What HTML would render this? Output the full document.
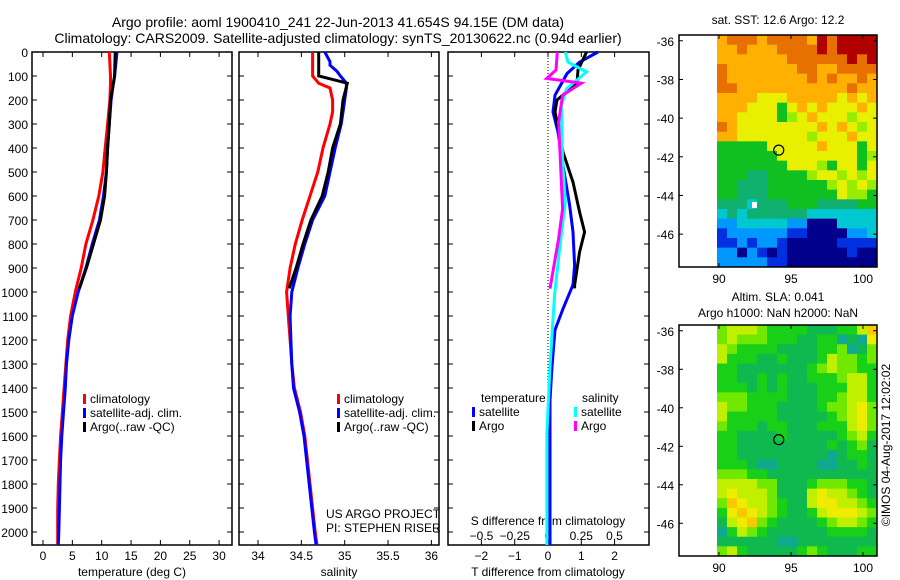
<!DOCTYPE html>
<html><head><meta charset="utf-8"><style>
body{margin:0;background:#fff}
svg{display:block;font-family:"Liberation Sans",sans-serif}
text{fill:#000}
</style></head><body>
<svg id="s" width="900" height="580" viewBox="0 0 900 580" xmlns="http://www.w3.org/2000/svg">
<text x="338" y="27" font-size="14" text-anchor="middle">Argo profile: aoml 1900410_241 22-Jun-2013 41.654S 94.15E (DM data)</text>
<text x="338" y="43" font-size="14" text-anchor="middle">Climatology: CARS2009. Satellite-adjusted climatology: synTS_20130622.nc (0.94d earlier)</text>
<text x="778" y="24" font-size="12" text-anchor="middle">sat. SST: 12.6 Argo: 12.2</text>
<text x="778" y="301" font-size="12" text-anchor="middle">Altim. SLA: 0.041</text>
<text x="778" y="317" font-size="12" text-anchor="middle">Argo h1000: NaN h2000: NaN</text>
<text transform="translate(890,445) rotate(-90)" font-size="12" text-anchor="middle">©IMOS 04-Aug-2017 12:02:02</text>
<g id="g"></g>
</svg>
<script>
// ---- profile data ----
const depthT = [0,50,100,130,200,300,400,500,600,700,800,900,1000,1100,1200,1300,1400,1500,1600,1700,1800,1900,2000,2054];
const tempClim = [11.3,11.4,11.5,11.5,11.4,11.0,10.6,10.2,9.5,8.5,7.3,6.5,5.5,4.7,4.2,3.9,3.6,3.3,3.0,2.8,2.6,2.5,2.5,2.5];
const tempSat  = [12.6,12.4,12.2,12.0,11.6,11.3,11.0,10.8,10.3,9.6,8.4,7.3,6.0,5.0,4.4,4.0,3.8,3.5,3.2,3.0,2.9,2.8,2.7,2.6];
const depthArgo = [0,100,130,200,300,400,500,600,700,800,900,985];
const tempArgo = [12.3,12.2,12.0,11.5,11.3,11.0,10.8,10.5,9.8,8.6,7.4,6.2];
const depthS = [0,40,55,80,100,130,150,200,250,300,400,500,600,700,800,900,1000,1100,1200,1300,1400,1500,1600,1700,1800,1900,2000,2054];
const salClim = [34.63,34.63,34.63,34.63,34.63,34.70,34.83,34.86,34.86,34.83,34.75,34.69,34.60,34.51,34.43,34.37,34.33,34.35,34.37,34.39,34.42,34.49,34.54,34.57,34.60,34.63,34.66,34.68];
const salSat  = [34.77,34.83,34.83,34.91,34.95,35.02,35.02,35.00,34.98,34.96,34.89,34.83,34.77,34.63,34.54,34.46,34.39,34.37,34.38,34.39,34.41,34.48,34.53,34.56,34.59,34.62,34.65,34.67];
const salArgo = [34.70,34.70,35.03,34.98,34.95,34.86,34.81,34.74,34.61,34.52,34.44,34.36];
// ---- difference data ----
const dTsatDepth = [0,42,90,180,250,333,472,638,750,890,970,1070,1158,1310,1450,1725,2000,2054];
const dTsat = [1.5,0.95,0.57,0.21,0.15,0.3,0.45,0.65,0.75,0.8,0.75,0.45,0.21,0.12,0.06,0.06,0.06,0.06];
const dTargoDepth = [0,75,130,200,250,417,542,667,750,833,972,985];
const dTargo = [1.16,0.9,0.87,0.27,0.21,0.45,0.75,0.95,1.1,0.95,0.8,0.8];
const dSsatDepth = [0,42,83,153,222,458,625,805,1010,1310,1590,2000,2054];
const dSsat = [0.13,0.15,0.29,0.14,0.1,0.11,0.13,0.09,0.05,0.015,-0.008,-0.008,-0.008];
const dSargoDepth = [0,75,110,130,180,292,653,778,986];
const dSargo = [0.07,0.06,-0.01,0.25,0.11,0.08,0.11,0.08,0.015];
// ---- tick labels ----
const depthTicks = [0,100,200,300,400,500,600,700,800,900,1000,1100,1200,1300,1400,1500,1600,1700,1800,1900,2000];
const tempTicks = [0,5,10,15,20,25,30];
const salTicks = [34,34.5,35,35.5,36];
const tdTicks = [-2,-1,0,1,2];
const sdTicks = [-0.5,-0.25,0,0.25,0.5];
const latTicks = [-36,-38,-40,-42,-44,-46];
const lonTicks = [90,95,100];
// ---- map grids (coded colour levels) ----
const sstRows = ["8999899998a9aaaa","8898889999a9aaaa","8888888999999a9a","9888888899889999","9888888889898898","9988888888888988","8888777888887878","8887775787877787","8877775678777677","9877777777878767","8877777776777877","5555577777877757","5555557777777756","5555555777657757","5554455556776767","5544455555567676","5544455555557665","4443444555444455","3434444443333333","2233333220003333","1222222110000223","1121221000001111","2202101000000100","2222211000000000"];
const slaRows = ["3444322221112246","3433322211220105","4322221111223013","4222112111243323","2211111112343322","2211212112223442","2221212111222442","3332222111223442","4332221111233453","4222221111123453","3222122111222453","2211112111112342","2211111111121231","2211111111101221","2221001111001121","3332211111111111","4444331112333221","4544431114544321","3654432114554432","2565432112455543","1456321111234432","0243211111122221","1111110011111111","3421111123211122"];
const argoLon = 94.15, argoLat = -41.654;

const NS="http://www.w3.org/2000/svg", G=document.getElementById('g');
function el(tag, attrs, parent){const e=document.createElementNS(NS,tag);for(const k in attrs)e.setAttribute(k,attrs[k]);(parent||G).appendChild(e);return e;}
const yD = d => 52 + 0.24*d;
const xT = v => 43 + 5.87*v;
const xS = v => 258 + 86.7*(v-34);
const xTd = v => 548 + 33.3*v;
const xSd = v => 548 + 133*v;

function frame(x0,x1,name){
  const r=el('rect',{x:x0,y:52,width:x1-x0,height:493,fill:'none',stroke:'#000','stroke-width':1.5});
  
  
  depthTicks.forEach(d=>{
    el('line',{x1:x0,x2:x0+5,y1:yD(d),y2:yD(d),stroke:'#000'});
    el('line',{x1:x1,x2:x1-5,y1:yD(d),y2:yD(d),stroke:'#000'});
  });
}
frame(32,232,'temperature-axes');
frame(239,439,'salinity-axes');
frame(448,649,'difference-axes');
depthTicks.forEach(d=>{
  const t=el('text',{x:28,y:yD(d)+5,'font-size':12,'text-anchor':'end'});
  
  
  t.textContent=d;
});
function xticks(arr,fx,y,labelY,fmt,name){
  arr.forEach(v=>{
    const x=fx(v);
    el('line',{x1:x,x2:x,y1:52,y2:57,stroke:'#000'});
    el('line',{x1:x,x2:x,y1:545,y2:540,stroke:'#000'});
    const t=el('text',{x:x,y:labelY,'font-size':12,'text-anchor':'middle'});
    
    
    t.textContent=fmt?fmt(v):v;
  });
}
xticks(tempTicks,xT,0,560,null,'temperature-tick-label');
xticks(salTicks,xS,0,560,null,'salinity-tick-label');
xticks(tdTicks,xTd,0,560,v=>v<0?'\u2212'+(-v):v,'t-diff-tick-label');
sdTicks.forEach(v=>{
  const t=el('text',{x:xSd(v),y:540,'font-size':12,'text-anchor':'middle'});
  
  
  t.textContent=v<0?'\u2212'+(-v):v;
});
[['temperature (deg C)',132,576,'temperature-axis-title'],['salinity',339,576,'salinity-axis-title'],['T difference from climatology',548,576,'t-diff-axis-title'],['S difference from climatology',548,525,'s-diff-axis-title']].forEach(a=>{
  const t=el('text',{x:a[1],y:a[2],'font-size':12,'text-anchor':'middle'});
  
  
  t.textContent=a[0];
});
const zl=el('line',{x1:xTd(0),x2:xTd(0),y1:52,y2:545,stroke:'#000','stroke-dasharray':'1,2'});



function line(ds,vs,fx,color,name){
  const pts=ds.map((d,i)=>fx(vs[i]).toFixed(1)+','+yD(d).toFixed(1)).join(' ');
  const p=el('polyline',{points:pts,fill:'none',stroke:color,'stroke-width':3,'stroke-linejoin':'miter'});
  
  
}
line(depthT,tempClim,xT,'#f00','temp-climatology-line');
line(depthT,tempSat,xT,'#00f','temp-satellite-line');
line(depthArgo,tempArgo,xT,'#000','temp-argo-line');
line(depthS,salClim,xS,'#f00','sal-climatology-line');
line(depthS,salSat,xS,'#00f','sal-satellite-line');
line(depthArgo,salArgo,xS,'#000','sal-argo-line');
line(dTsatDepth,dTsat,xTd,'#00f','tdiff-satellite-line');
line(dTargoDepth,dTargo,xTd,'#000','tdiff-argo-line');
line(dSsatDepth,dSsat,xSd,'#0ff','sdiff-satellite-line');
line(dSargoDepth,dSargo,xSd,'#f0f','sdiff-argo-line');

function legend(x,y,items,name){
  items.forEach((it,i)=>{
    el('rect',{x:x,y:y+i*14-5,width:3,height:10,fill:it[1]});
    const t=el('text',{x:x+7,y:y+i*14+4,'font-size':12});
    
    
    t.textContent=it[0];
  });
}
const L=[['climatology','#f00'],['satellite-adj. clim.','#00f'],['Argo(..raw -QC)','#000']];
legend(83,399,L,'temp-legend-entry');
legend(337,399,L,'sal-legend-entry');
legend(472,412,[['satellite','#00f'],['Argo','#000']],'tdiff-legend-entry');
legend(574,412,[['satellite','#0ff'],['Argo','#f0f']],'sdiff-legend-entry');
[['temperature',481,402],['salinity',582,402]].forEach(a=>{
  const t=el('text',{x:a[1],y:a[2],'font-size':12});
  
  
  t.textContent=a[0];
});
[['US ARGO PROJECT',518],['PI: STEPHEN RISER',532]].forEach(a=>{
  const t=el('text',{x:326,y:a[1],'font-size':12});
  
  
  t.textContent=a[0];
});

// ---- maps ----
const sstPal={'0':'#00008c','1':'#0030e0','2':'#0098ff','3':'#00c8d0','4':'#10b070','5':'#10c020','6':'#98ec00','7':'#e8f000','8':'#ffb000','9':'#e87000','a':'#b00000'};
const slaPal={'0':'#10a890','1':'#10b850','2':'#18d018','3':'#70e800','4':'#c0f000','5':'#f0ec00','6':'#f8c800'};
function map(y0,y1,rows,pal,name){
  const x0=679,x1=877,dx0=717;
  const lonX=v=>719+14.4*(v-90);
  const latY=v=>y0+(( -35.7)-v)*(y1-y0)/12;
  const nr=rows.length,nc=rows[0].length,cw=(x1-dx0)/nc,ch=(y1-y0)/nr;
  rows.forEach((r,i)=>{[...r].forEach((c,j)=>{
    const cell=el('rect',{x:(dx0+j*cw).toFixed(2),y:(y0+i*ch).toFixed(2),width:(cw+0.5).toFixed(2),height:(ch+0.5).toFixed(2),fill:pal[c]});
    
    
  });});
  const f=el('rect',{x:x0,y:y0,width:x1-x0,height:y1-y0,fill:'none',stroke:'#000','stroke-width':1.5});
  
  
  latTicks.forEach(v=>{
    const y=latY(v);
    el('line',{x1:x0,x2:x0+4,y1:y,y2:y,stroke:'#000'});
    el('line',{x1:x1,x2:x1-4,y1:y,y2:y,stroke:'#000'});
    const t=el('text',{x:x0-5,y:y+5,'font-size':12,'text-anchor':'end'});
    
    
    t.textContent='-'+(-v);
  });
  lonTicks.forEach(v=>{
    const x=lonX(v);
    el('line',{x1:x,x2:x,y1:y0,y2:y0+4,stroke:'#000'});
    el('line',{x1:x,x2:x,y1:y1,y2:y1-4,stroke:'#000'});
    const t=el('text',{x:x,y:y1+16,'font-size':12,'text-anchor':'middle'});
    
    
    t.textContent=v;
  });
  const m=el('ellipse',{cx:lonX(argoLon),cy:latY(argoLat),rx:5,ry:5,fill:'none',stroke:'#000','stroke-width':1.2});
  
  
}
map(35,267,sstRows,sstPal,'sst-map');
map(325,556,slaRows,slaPal,'sla-map');
const wp=el('rect',{x:752,y:202,width:5,height:6,fill:'#fff'});


</script>
</body></html>
